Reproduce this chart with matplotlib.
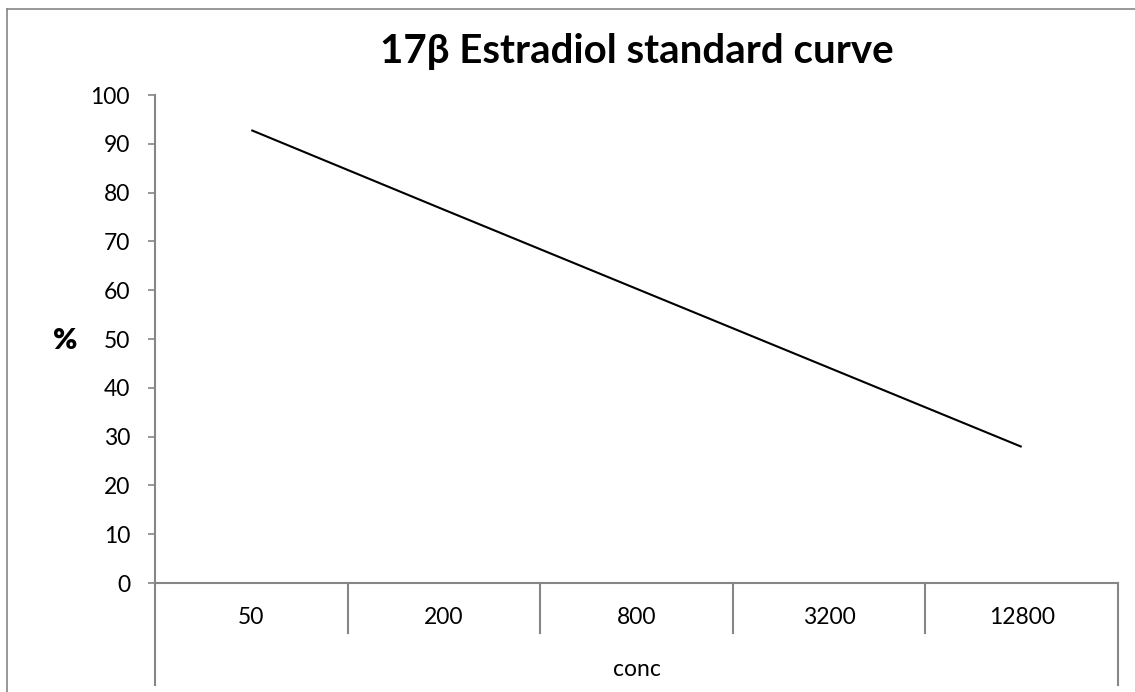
import matplotlib.pyplot as plt
from matplotlib.lines import Line2D

categories = ["50", "200", "800", "3200", "12800"]
percent = [92.8, 76.5, 60.3, 44.1, 27.9]
y_ticks = list(range(0, 101, 10))

W, H = 1135, 692
GRAY = "#868686"
FS = 16.5

plt.rcParams['font.family'] = ['Lato', 'DejaVu Sans']

fig = plt.figure(figsize=(W / 100, H / 100), dpi=100)
# plot area in pixels: x 155..1118, y 95..583
ax = fig.add_axes([155 / W, (H - 583) / H, (1118 - 155) / W, (583 - 95) / H])

x = list(range(len(categories)))
ax.plot(x, percent, color="black", linewidth=1.5, solid_capstyle="butt")

ax.set_xlim(-0.5, len(categories) - 0.5)
ax.set_ylim(0, 100)
ax.set_yticks(y_ticks)
ax.set_yticklabels([str(v) for v in y_ticks], fontsize=FS)
ax.tick_params(axis="y", direction="out", length=5, width=1.2, color=GRAY, pad=13)
ax.set_xticks([])

for s in ["top", "right"]:
    ax.spines[s].set_visible(False)
for s in ["left", "bottom"]:
    ax.spines[s].set_color(GRAY)
    ax.spines[s].set_linewidth(1.5)

# multi-level category axis
ph = 583 - 95
tr = ax.get_xaxis_transform()
for i in range(len(categories) + 1):
    b = i - 0.5
    low = -(685 - 583) / ph if i in (0, len(categories)) else -(633 - 583) / ph
    ax.plot([b, b], [0, low], transform=tr, color=GRAY, linewidth=1.5, clip_on=False)
for i, c in enumerate(categories):
    ax.text(i, -(618 - 583) / ph, c, transform=tr, ha="center", va="center", fontsize=FS)
ax.text((len(categories) - 1) / 2, -(669 - 583) / ph, "conc", transform=tr,
        ha="center", va="center", fontsize=FS)

ax.set_ylabel("%", fontsize=21, fontweight="heavy", rotation=0, labelpad=0,
              va="center", ha="center")
ax.yaxis.set_label_coords((65 - 155) / (1118 - 155), (583 - 341) / ph)

fig.text(637 / W, 1 - 52 / H, "17β Estradiol standard curve", ha="center", va="center",
         fontsize=29, fontweight="bold")

# chart area border (left and top visible)
fig.add_artist(Line2D([7 / W, 7 / W], [0, 1 - 9 / H], color=GRAY, linewidth=1.2))
fig.add_artist(Line2D([7 / W, 1], [1 - 9 / H, 1 - 9 / H], color=GRAY, linewidth=1.2))

fig.savefig("out.png", dpi=100, facecolor="white")
